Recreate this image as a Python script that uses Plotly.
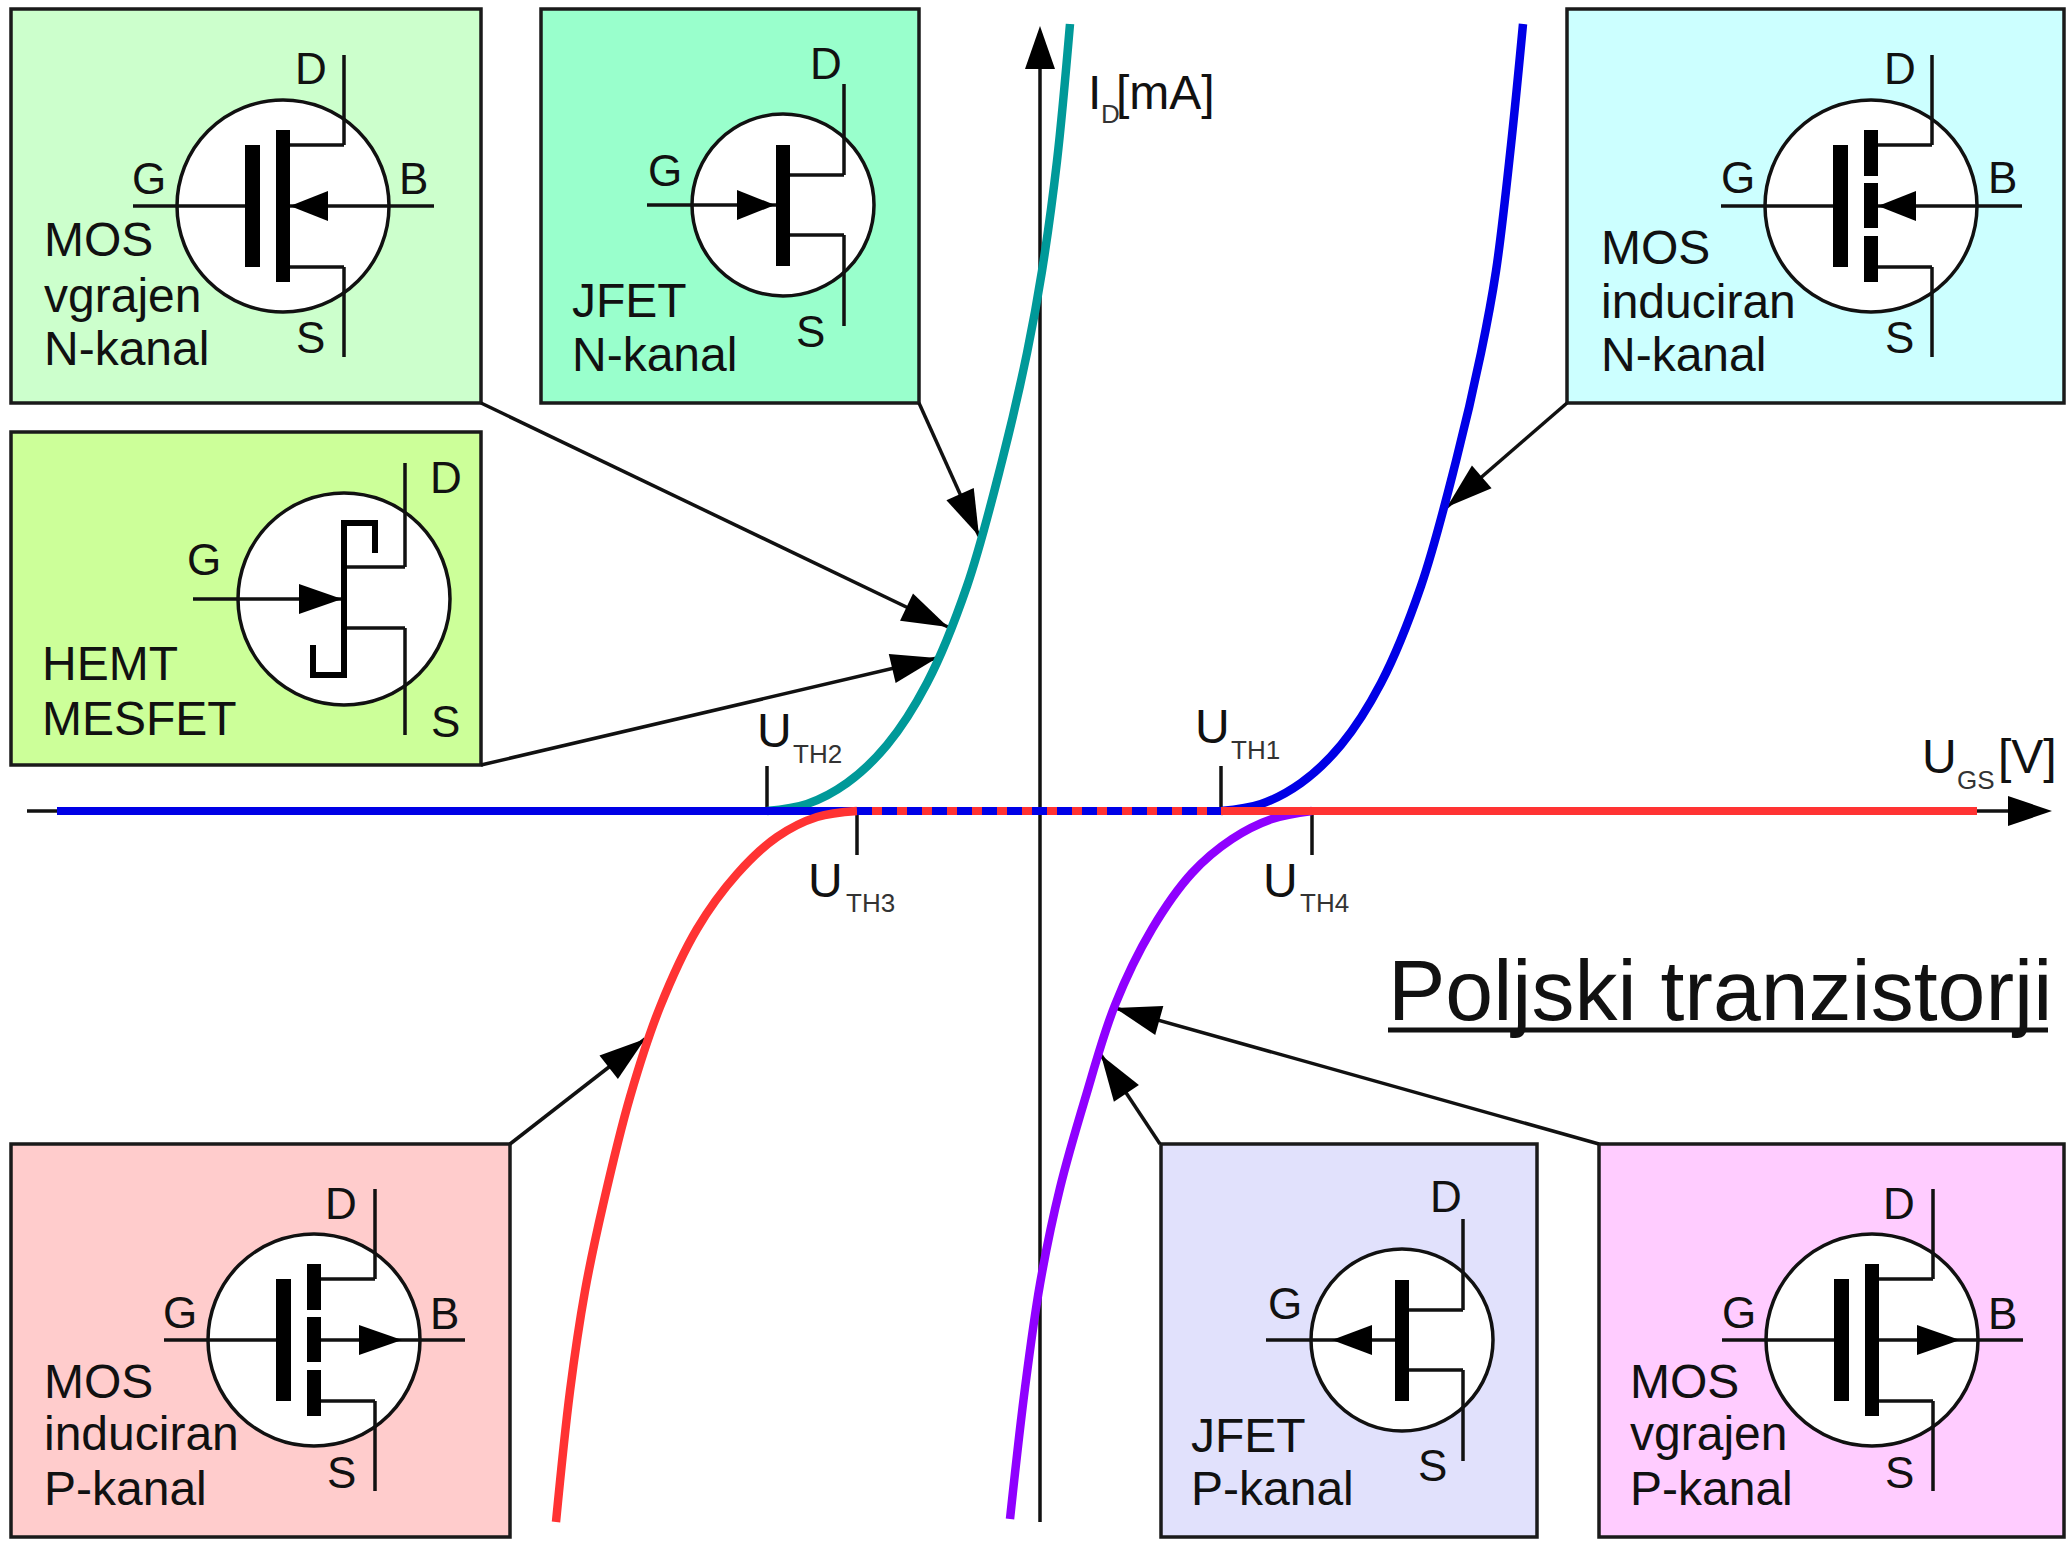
import math
import plotly.graph_objects as go

# curves (picture pixels, y grows downwards)
teal_x = [767, 807, 847, 887, 927, 967, 1002, 1027, 1042, 1057, 1070]
teal_y = [811, 804, 783, 745, 683, 586, 461, 353, 271, 161, 24]

blue_x = [1221, 1261, 1301, 1341, 1381, 1421, 1456, 1481, 1496, 1511, 1523]
blue_y = [811, 804, 783, 745, 683, 586, 461, 353, 271, 145, 24]

purple_x = [1010, 1025, 1040, 1060, 1085, 1115, 1152, 1192, 1232, 1272, 1312]
purple_y = [1519, 1388, 1284, 1188, 1099, 1005, 929, 873, 839, 819, 811]

red_x = [556, 570, 585, 603, 630, 660, 697, 737, 777, 817, 857]
red_y = [1522, 1391, 1291, 1205, 1097, 1007, 929, 874, 837, 817, 811]

# the flat parts along the U_GS axis
blue_flat_x = [57, 857]
blue_flat_y = [811, 811]
red_flat_x = [857, 1977]
red_flat_y = [811, 811]
overlap_x = [857, 1221]
overlap_y = [811, 811]

# threshold ticks: x, y from, y to
tick_x = [767, 1221, 857, 1312]
tick_y0 = [766, 766, 811, 811]
tick_y1 = [811, 811, 855, 855]

# boxes
box_x0 = [11, 11, 541, 1567, 11, 1161, 1599]
box_y0 = [9, 432, 9, 9, 1144, 1144, 1144]
box_x1 = [481, 481, 919, 2064, 510, 1537, 2064]
box_y1 = [403, 765, 403, 403, 1537, 1537, 1537]
box_colors = ["#CCFFCC", "#CCFF99", "#99FFCC", "#CCFFFF", "#FFCCCC", "#E1E1FC", "#FFCCFF"]

# pointers: start corner, arrow tip
ptr_x0 = [481, 481, 919, 1567, 510, 1160, 1599]
ptr_y0 = [403, 765, 403, 403, 1144, 1144, 1144]
ptr_x1 = [948, 937, 979, 1447, 645, 1101, 1115]
ptr_y1 = [627, 658, 536, 507, 1039, 1055, 1008]

pin_labels = [
    ("D", 311, 68), ("G", 149, 178), ("B", 413, 178), ("S", 310, 337),
    ("D", 446, 477), ("G", 204, 559), ("S", 445, 721),
    ("D", 826, 63), ("G", 665, 170), ("S", 810, 331),
    ("D", 1900, 68), ("G", 1738, 177), ("B", 2002, 177), ("S", 1899, 337),
    ("D", 341, 1203), ("G", 180, 1312), ("B", 444, 1313), ("S", 341, 1472),
    ("D", 1446, 1196), ("G", 1285, 1303), ("S", 1432, 1465),
    ("D", 1899, 1203), ("G", 1739, 1312), ("B", 2002, 1313), ("S", 1899, 1472),
]

captions = [
    ("MOS", 47, 256), ("vgrajen", 47, 312), ("N-kanal", 47, 365),
    ("HEMT", 45, 680), ("MESFET", 45, 735),
    ("JFET", 575, 317), ("N-kanal", 575, 371),
    ("MOS", 1604, 264), ("induciran", 1604, 318), ("N-kanal", 1604, 371),
    ("MOS", 47, 1398), ("induciran", 47, 1450), ("P-kanal", 47, 1505),
    ("JFET", 1194, 1452), ("P-kanal", 1194, 1505),
    ("MOS", 1633, 1398), ("vgrajen", 1633, 1450), ("P-kanal", 1633, 1505),
]

axis_labels = [
    ("U", 760, 747), ("U", 1198, 743), ("U", 811, 897), ("U", 1266, 897),
    ("I", 1091, 109), ("[mA]", 1119, 109), ("U", 1925, 773), ("[V]", 2001, 773),
]
sub_labels = [
    ("TH2", 793, 763), ("TH1", 1231, 759), ("TH3", 846, 912), ("TH4", 1300, 912),
    ("D", 1101, 123), ("GS", 1957, 789),
]

title_text = "Poljski tranzistorji"

FONT = "Liberation Sans"
INK = "#111111"
CAPTION_SIZE = 48
PIN_SIZE = 44
SUB_SIZE = 26
TITLE_SIZE = 86

fig = go.Figure()


def line(x0, y0, x1, y1, w=3.5):
    fig.add_shape(type="line", x0=x0, y0=y0, x1=x1, y1=y1, layer="below",
                  line=dict(color=INK, width=w))


def bar(x0, y0, x1, y1):
    fig.add_shape(type="rect", x0=x0, y0=y0, x1=x1, y1=y1, layer="below",
                  fillcolor="black", line_width=0)


def head(tx, ty, fx, fy, length=46, half=15):
    # filled arrow head, tip at t, pointing away from f
    d = math.hypot(tx - fx, ty - fy)
    ux, uy = (tx - fx) / d, (ty - fy) / d
    bx, by = tx - ux * length, ty - uy * length
    path = f"M{tx} {ty} L{bx - uy * half} {by + ux * half} L{bx + uy * half} {by - ux * half} Z"
    fig.add_shape(type="path", path=path, layer="below", fillcolor="black", line_width=0)


def circle(cx, cy, r):
    fig.add_shape(type="circle", x0=cx - r, y0=cy - r, x1=cx + r, y1=cy + r, layer="below",
                  fillcolor="white", line=dict(color=INK, width=3.5))


def mos(cx, cy, segmented, p_type):
    circle(cx, cy, 106)
    line(cx - 150, cy, cx - 37, cy)
    line(cx + 7, cy, cx + 151, cy)
    bar(cx - 38, cy - 61, cx - 23, cy + 61)
    if segmented:
        bar(cx - 7, cy - 76, cx + 7, cy - 30)
        bar(cx - 7, cy - 23, cx + 7, cy + 22)
        bar(cx - 7, cy + 30, cx + 7, cy + 76)
    else:
        bar(cx - 7, cy - 76, cx + 7, cy + 76)
    for sign in (-1, 1):
        line(cx + 61, cy + sign * 61, cx + 7, cy + sign * 61)
        line(cx + 61, cy + sign * 61, cx + 61, cy + sign * 151)
    if p_type:
        head(cx + 88, cy, cx + 45, cy, length=43)
    else:
        head(cx + 7, cy, cx + 45, cy, length=38)


def jfet(cx, cy, p_type):
    circle(cx, cy, 91)
    line(cx - 136, cy, cx - 7, cy)
    bar(cx - 7, cy - 60, cx + 7, cy + 61)
    for sign in (-1, 1):
        line(cx + 61, cy + sign * 30, cx + 7, cy + sign * 30)
        line(cx + 61, cy + sign * 30, cx + 61, cy + sign * 121)
    if p_type:
        head(cx - 70, cy, cx - 30, cy, length=40)
    else:
        head(cx - 8, cy, cx - 46, cy, length=38)


def hemt(cx, cy):
    circle(cx, cy, 106)
    line(cx - 151, cy, cx - 2, cy)
    line(cx + 61, cy - 136, cx + 61, cy - 32)
    line(cx + 61, cy - 32, cx, cy - 32)
    line(cx + 61, cy + 29, cx, cy + 29)
    line(cx + 61, cy + 29, cx + 61, cy + 136)
    fig.add_shape(type="path", layer="below", line=dict(color="black", width=6),
                  path=f"M{cx + 31} {cy - 46} L{cx + 31} {cy - 76} L{cx} {cy - 76} "
                       f"L{cx} {cy + 76} L{cx - 31} {cy + 76} L{cx - 31} {cy + 46}")
    head(cx - 2, cy, cx - 45, cy, length=43)


def text(s, x, y, size, anchor="left", color=INK):
    fig.add_annotation(x=x, y=y, text=s, showarrow=False, xanchor=anchor, yanchor="middle",
                       font=dict(family=FONT, size=size, color=color))


def curve(xs, ys, color):
    fig.add_trace(go.Scatter(x=xs, y=ys, mode="lines",
                             line=dict(color=color, width=8.5, shape="spline", smoothing=1)))


# boxes go first, the rest is drawn on top of them
for i in range(len(box_colors)):
    fig.add_shape(type="rect", x0=box_x0[i], y0=box_y0[i], x1=box_x1[i], y1=box_y1[i],
                  layer="below", fillcolor=box_colors[i], line=dict(color="#1a1a1a", width=3.5))

mos(283, 206, False, False)
hemt(344, 599)
jfet(783, 205, False)
mos(1871, 206, True, False)
mos(314, 1340, True, True)
jfet(1402, 1340, True)
mos(1872, 1340, False, True)

# pointers from box corners to the curves
for i in range(len(ptr_x0)):
    line(ptr_x0[i], ptr_y0[i], ptr_x1[i], ptr_y1[i])
    head(ptr_x1[i], ptr_y1[i], ptr_x0[i], ptr_y0[i])

# axes
line(1040, 69, 1040, 1522)
head(1040, 26, 1040, 69, length=43)
line(27, 811, 2008, 811)
head(2052, 811, 2008, 811, length=44)

for i in range(len(tick_x)):
    line(tick_x[i], tick_y0[i], tick_x[i], tick_y1[i])

# title underline
line(1388, 1030, 2048, 1030, w=5)

# curves, red last so it lies over the others, then the blue dashes over red
curve(teal_x, teal_y, "#009999")
curve(blue_x, blue_y, "#0000E6")
fig.add_trace(go.Scatter(x=blue_flat_x, y=blue_flat_y, mode="lines", line=dict(color="#0000E6", width=8)))
curve(purple_x, purple_y, "#8F00FF")
curve(red_x, red_y, "#FF3333")
fig.add_trace(go.Scatter(x=red_flat_x, y=red_flat_y, mode="lines", line=dict(color="#FF3333", width=8)))
fig.add_trace(go.Scatter(x=overlap_x, y=overlap_y, mode="lines", line=dict(color="#0000E6", width=8, dash="15px,10px")))

for s, x, y in pin_labels:
    text(s, x, y, PIN_SIZE, anchor="center")
for s, x, base in captions:
    text(s, x - 5, base - 0.3465 * CAPTION_SIZE, CAPTION_SIZE)
for s, x, base in axis_labels:
    text(s, x - 5, base - 0.3465 * CAPTION_SIZE, CAPTION_SIZE)
for s, x, base in sub_labels:
    text(s, x - 2, base - 0.3465 * SUB_SIZE, SUB_SIZE, color="#333333")
text(title_text, 1386, 1020 - 0.3465 * TITLE_SIZE, TITLE_SIZE)

fig.update_layout(
    width=2066,
    height=1543,
    margin=dict(l=0, r=0, t=0, b=0),
    paper_bgcolor="white",
    plot_bgcolor="white",
    showlegend=False,
    xaxis=dict(range=[0, 2066], visible=False),
    yaxis=dict(range=[1543, 0], visible=False),
)

fig.write_html("out.html", config=dict(displayModeBar=False),
               post_script="document.body.style.margin='0';")
